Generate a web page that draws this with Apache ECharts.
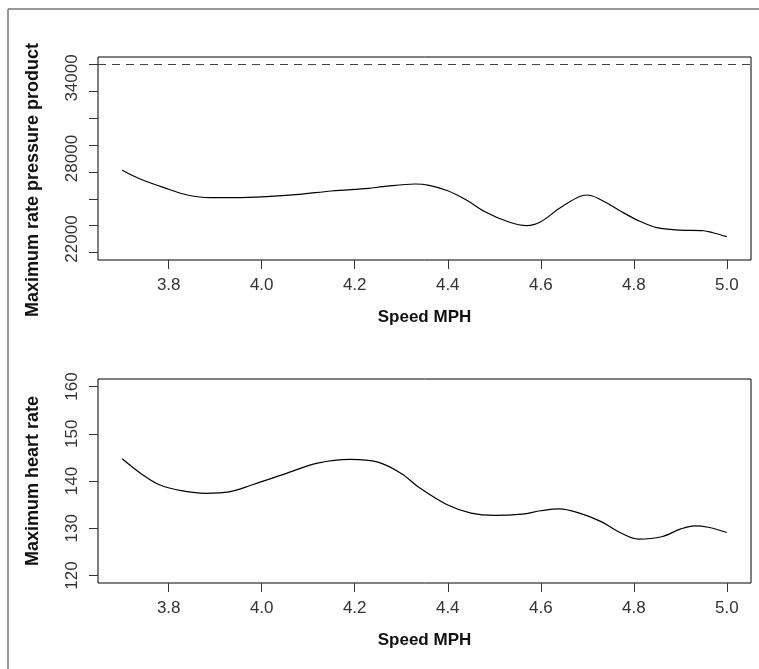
<!DOCTYPE html>
<html>
<head>
<meta charset="utf-8">
<script src="https://cdn.jsdelivr.net/npm/echarts@6/dist/echarts.min.js"></script>
<style>
html,body{margin:0;padding:0;background:#fff;}
#chart{width:759px;height:669px;}
</style>
</head>
<body>
<div id="chart"></div>
<script>
// Top panel: maximum rate pressure product vs speed
const rppSpeed = [3.70, 3.74, 3.80, 3.84, 3.89, 3.94, 4.01, 4.08, 4.15, 4.23, 4.26, 4.33, 4.36, 4.40, 4.44, 4.48, 4.53, 4.57, 4.60, 4.64, 4.68, 4.70, 4.73, 4.77, 4.81, 4.85, 4.90, 4.95, 4.97, 5.00];
const rppValues = [27120, 26450, 25710, 25280, 25080, 25080, 25160, 25330, 25580, 25780, 25900, 26100, 26000, 25600, 24910, 24040, 23290, 23000, 23290, 24290, 25110, 25280, 24910, 24110, 23370, 22850, 22670, 22620, 22470, 22180];
const rppReference = 35000;
const rppTicks = [21000, 23000, 25000, 27000, 29000, 31000, 33000, 35000];
const rppTickLabels = [22000, 28000, 34000];

// Bottom panel: maximum heart rate vs speed
const hrSpeed = [3.70, 3.74, 3.78, 3.83, 3.88, 3.93, 3.98, 4.05, 4.12, 4.19, 4.25, 4.30, 4.34, 4.40, 4.45, 4.50, 4.56, 4.60, 4.64, 4.68, 4.73, 4.77, 4.81, 4.86, 4.90, 4.93, 4.96, 5.00];
const hrValues = [144.7, 141.6, 139.2, 137.9, 137.4, 137.7, 139.2, 141.5, 143.8, 144.6, 144.0, 141.6, 138.5, 134.9, 133.2, 132.7, 133.0, 133.7, 134.1, 133.3, 131.4, 129.1, 127.7, 128.2, 129.8, 130.5, 130.2, 129.1];
const hrTicks = [120, 130, 140, 150, 160];

const speedTicks = [3.8, 4.0, 4.2, 4.4, 4.6, 4.8, 5.0];
const xTitle = 'Speed MPH';
const yTitleTop = 'Maximum rate pressure product';
const yTitleBottom = 'Maximum heart rate';

const FONT = '"Liberation Sans", Arial, sans-serif';

function pairs(xs, ys) { return xs.map((x, i) => [x, ys[i]]); }

function xAxisCfg(gridIndex) {
  return {
    type: 'value', gridIndex: gridIndex, min: 3.648, max: 5.052,
    axisLine: { show: false },
    splitLine: { show: false },
    axisTick: { show: true, length: 9, customValues: speedTicks, lineStyle: { color: '#333', width: 1 } },
    axisLabel: { customValues: speedTicks, margin: 17, color: '#333', fontFamily: FONT, fontSize: 17,
      formatter: v => Number(v).toFixed(1) },
    name: xTitle, nameLocation: 'middle', nameGap: 49,
    nameTextStyle: { fontFamily: FONT, fontSize: 17, fontWeight: 'bold', color: '#111' }
  };
}

const chart = echarts.init(document.getElementById('chart'), null, { renderer: 'canvas' });
chart.setOption({
  animation: false,
  backgroundColor: '#fff',
  graphic: [
    { type: 'line', silent: true, shape: { x1: 8, y1: 9, x2: 770, y2: 9 }, style: { stroke: '#777', lineWidth: 1.5 } },
    { type: 'line', silent: true, shape: { x1: 8, y1: 9, x2: 8, y2: 680 }, style: { stroke: '#777', lineWidth: 1.5 } }
  ],
  grid: [
    { left: 98, top: 57, width: 653, height: 203, show: true, borderColor: '#000', borderWidth: 1, backgroundColor: 'transparent' },
    { left: 98, top: 379, width: 653, height: 204, show: true, borderColor: '#000', borderWidth: 1, backgroundColor: 'transparent' }
  ],
  xAxis: [xAxisCfg(0), xAxisCfg(1)],
  yAxis: [
    {
      type: 'value', gridIndex: 0, min: 20440, max: 35560,
      axisLine: { show: false }, splitLine: { show: false },
      axisTick: { show: true, length: 9, customValues: rppTicks, lineStyle: { color: '#333', width: 1 } },
      axisLabel: { customValues: rppTickLabels, rotate: 90, margin: 17, color: '#333', fontFamily: FONT, fontSize: 17,
        formatter: v => String(Math.round(v)) },
      name: yTitleTop, nameLocation: 'middle', nameGap: 56,
      nameTextStyle: { fontFamily: FONT, fontSize: 18, fontWeight: 'bold', color: '#111', padding: [0, 43, 0, 0] }
    },
    {
      type: 'value', gridIndex: 1, min: 118.4, max: 161.6,
      axisLine: { show: false }, splitLine: { show: false },
      axisTick: { show: true, length: 9, customValues: hrTicks, lineStyle: { color: '#333', width: 1 } },
      axisLabel: { customValues: hrTicks, rotate: 90, margin: 17, color: '#333', fontFamily: FONT, fontSize: 17,
        formatter: v => String(Math.round(v)) },
      name: yTitleBottom, nameLocation: 'middle', nameGap: 56,
      nameTextStyle: { fontFamily: FONT, fontSize: 18, fontWeight: 'bold', color: '#111' }
    }
  ],
  series: [
    {
      type: 'line', xAxisIndex: 0, yAxisIndex: 0, data: pairs(rppSpeed, rppValues),
      smooth: 0.35, showSymbol: false, silent: true,
      lineStyle: { color: '#000', width: 1.2 },
      markLine: {
        silent: true, symbol: 'none', label: { show: false },
        lineStyle: { color: '#444', width: 1.2, type: [8, 6] },
        data: [{ yAxis: rppReference }]
      }
    },
    {
      type: 'line', xAxisIndex: 1, yAxisIndex: 1, data: pairs(hrSpeed, hrValues),
      smooth: 0.35, showSymbol: false, silent: true,
      lineStyle: { color: '#000', width: 1.2 }
    }
  ]
});
</script>
</body>
</html>
